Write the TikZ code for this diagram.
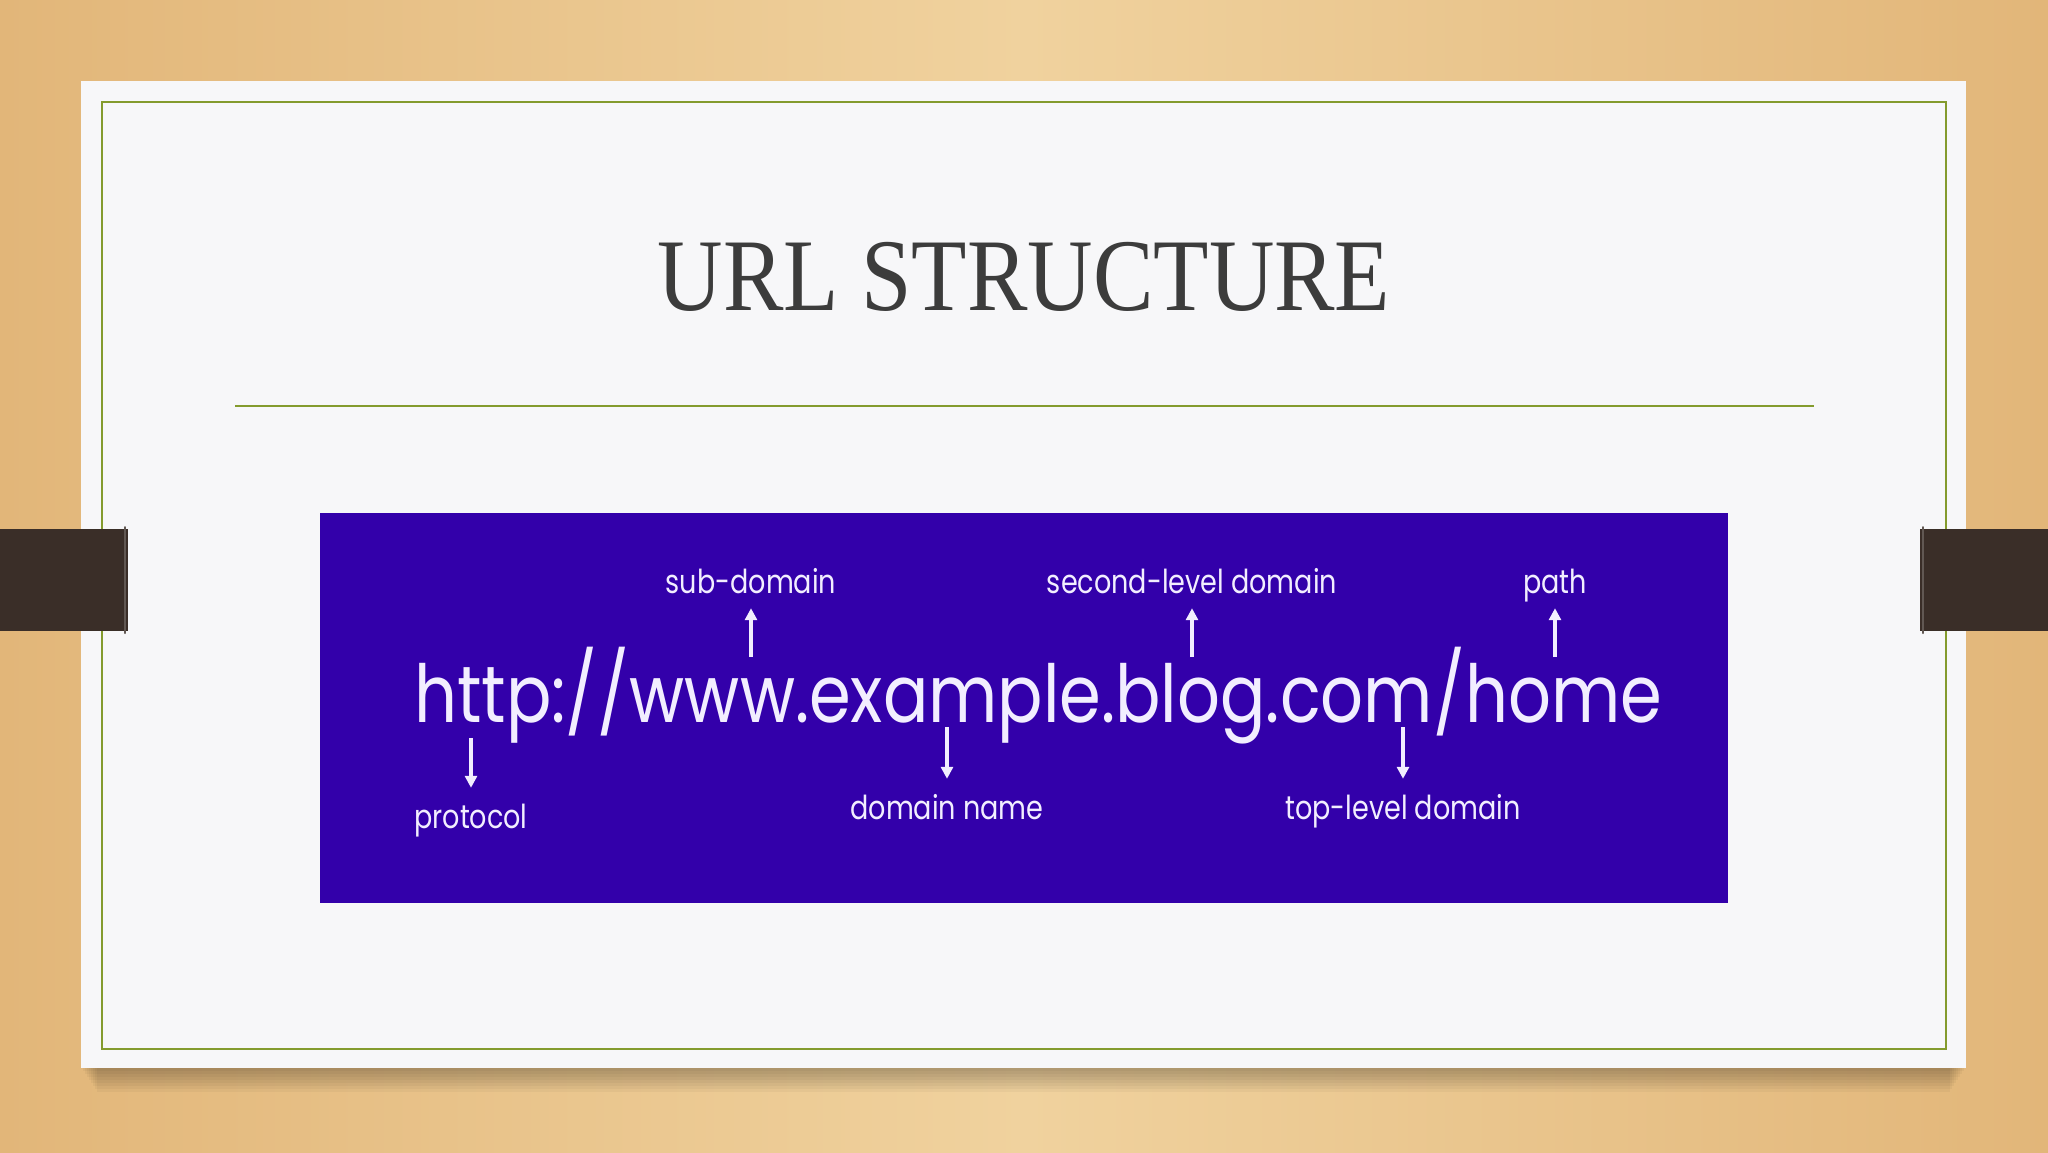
\documentclass[tikz,border=0pt]{standalone}
\usepackage{fontspec}
\setmainfont{Liberation Serif}
\newfontfamily\titlefont{Liberation Serif}[FakeStretch=0.88]
\newfontfamily\urlfont{Poppins}[FakeStretch=0.84]
\newfontfamily\labelfont{Poppins}[FakeStretch=0.82]
\usetikzlibrary{arrows.meta}

\definecolor{woodDark}{HTML}{E2B679}
\definecolor{woodLight}{HTML}{F0D29E}
\definecolor{paper}{HTML}{F7F7F9}
\definecolor{frame}{HTML}{849B2E}
\definecolor{tab}{HTML}{3A2E28}
\definecolor{banner}{HTML}{3300AA}
\definecolor{urltext}{HTML}{F2EEFF}
\definecolor{titletext}{HTML}{3C3C3C}

\tikzset{
    label text/.style={font=\labelfont\fontsize{33}{40}\selectfont, color=urltext,
                       inner sep=0pt, text height=25pt, text depth=0pt},
    pointer/.style={line width=3.5, color=urltext,
                    -{Triangle[length=12pt, width=12pt]}, shorten >=15pt}
}

\begin{document}
\begin{tikzpicture}[x=1pt, y=-1pt]
        % Wood background:
        \useasboundingbox (0, 0) rectangle (2048, 1152);
        \shade[left color=woodDark, right color=woodDark, middle color=woodLight] (0, 0) rectangle (2048, 1152);

        % Shadow under the paper:
        \foreach \i in {1, 2, 3, 4, 5, 6, 7, 8}
            \fill[color=black, opacity=0.035] (81 + 2*\i, 1060) rectangle (1966 - 2*\i, 1068 + 3*\i);

        % Paper and frame:
        \fill[color=paper] (81, 81) rectangle (1966, 1068);
        \draw[line width=2.5, color=frame] (102, 102) rectangle (1946, 1049);

        % Tabs:
        \fill[color=tab] (0, 529) rectangle (128, 631);
        \fill[color=tab] (1920, 529) rectangle (2048, 631);
        \foreach \x in {125, 1923}
            \draw[line width=2, color=tab!80!white, line cap=round] (\x, 527) -- (\x, 633);

        % Title:
        \node[anchor=base, font=\titlefont\fontsize{103}{110}\selectfont, color=titletext, inner sep=0pt]
            (title) at (1024, 310) {URL STRUCTURE};

        % Rule under the title:
        \draw[line width=2, color=frame] (235, 406) -- (1814, 406);

        % Banner:
        \fill[color=banner] (320, 513) rectangle (1728, 903);
        \node[anchor=base west, font=\urlfont\fontsize{80}{90}\selectfont, color=urltext, inner sep=0pt]
            (url) at (414, 722) {http://www.example.blog.com/home};

        % Labels above the url:
        \node[label text, anchor=base] (sub) at (751, 593) {sub-domain};
        \node[label text, anchor=base] (second) at (1192, 593) {second-level domain};
        \node[label text, anchor=base] (path) at (1555, 593) {path};

        % Labels below the url:
        \node[label text, anchor=base] (protocol) at (471, 828) {protocol};
        \node[label text, anchor=base] (domain) at (947, 819) {domain name};
        \node[label text, anchor=base] (tld) at (1403, 819) {top-level domain};

        % Arrows:
        \coordinate (subfoot) at (751, 657);
        \coordinate (secondfoot) at (1192, 657);
        \coordinate (pathfoot) at (1555, 657);
        \coordinate (protocolfoot) at (471, 738);
        \coordinate (domainfoot) at (947, 727);
        \coordinate (tldfoot) at (1403, 727);
        \foreach \n in {sub, second, path, protocol, domain, tld}
            \draw[pointer] (\n foot) -- (\n);
    \end{tikzpicture}
\end{document}
